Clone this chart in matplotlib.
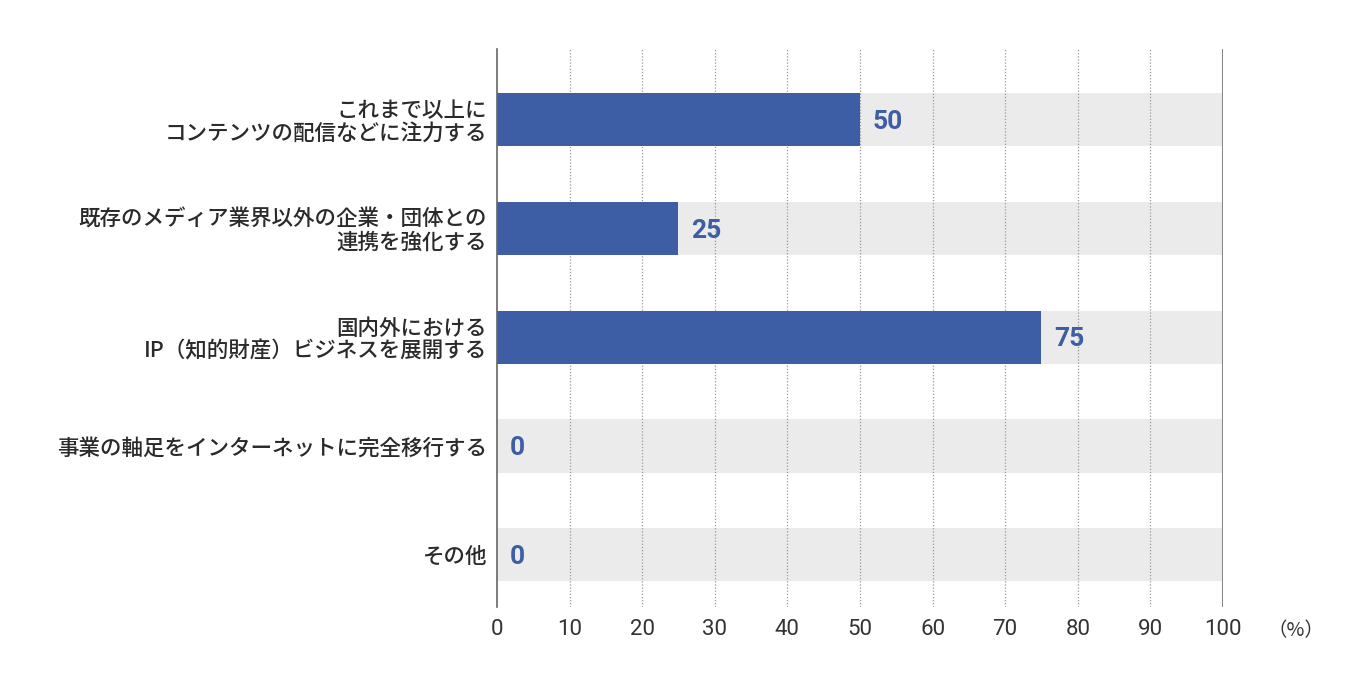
import matplotlib
matplotlib.use("Agg")
import matplotlib.pyplot as plt

categories = [
    "これまで以上に\nコンテンツの配信などに注力する",
    "既存のメディア業界以外の企業・団体との\n連携を強化する",
    "国内外における\nIP（知的財産）ビジネスを展開する",
    "事業の軸足をインターネットに完全移行する",
    "その他",
]
values = [50, 25, 75, 0, 0]
xticks = [0, 10, 20, 30, 40, 50, 60, 70, 80, 90, 100]

plt.rcParams['font.family'] = ['Noto Sans CJK JP', 'DejaVu Sans']

fig = plt.figure(figsize=(13.46, 6.85), dpi=100)
ax = fig.add_axes([0.3692, 0.1139, 0.9086 - 0.3692, 0.9285 - 0.1139])

ypos = list(range(len(categories)))
ax.barh(ypos, [100] * len(categories), height=0.49, color='#ebebeb', zorder=0.5)
ax.barh(ypos, values, height=0.49, color='#3d5da5', zorder=2)

for y, v in zip(ypos, values):
    ax.text(v + 1.7, y + 0.02, str(v), va='center', ha='left', fontsize=19,
            fontweight='bold', color='#3d5da5', family=['Roboto', 'DejaVu Sans'], zorder=3)

ax.set_xlim(0, 100)
ax.set_ylim(4.48, -0.65)
ax.set_xticks(xticks)
ax.set_xticklabels([str(t) for t in xticks], fontsize=16, color='#333333',
                   family=['Roboto', 'DejaVu Sans'])
ax.set_yticks(ypos)
ax.set_yticklabels(categories, fontsize=15.5, color='#2a2a2a', linespacing=1.05,
                   fontweight='medium')
ax.tick_params(axis='y', length=0, pad=7)
ax.tick_params(axis='x', length=0, pad=9)

for t in xticks[1:-1]:
    ax.axvline(t, color='#999999', linestyle=(0, (1, 1.5)), linewidth=0.9, zorder=1)
ax.axvline(100, color='#888888', linewidth=1.5, zorder=1)

for s in ['top', 'right', 'bottom']:
    ax.spines[s].set_visible(False)
ax.spines['left'].set_color('#666666')
ax.spines['left'].set_linewidth(1.2)

ax.text(1.10, -0.024, '（%）', transform=ax.transAxes, ha='center', va='top',
        fontsize=14, color='#333333')

fig.savefig('out.png', dpi=100)
